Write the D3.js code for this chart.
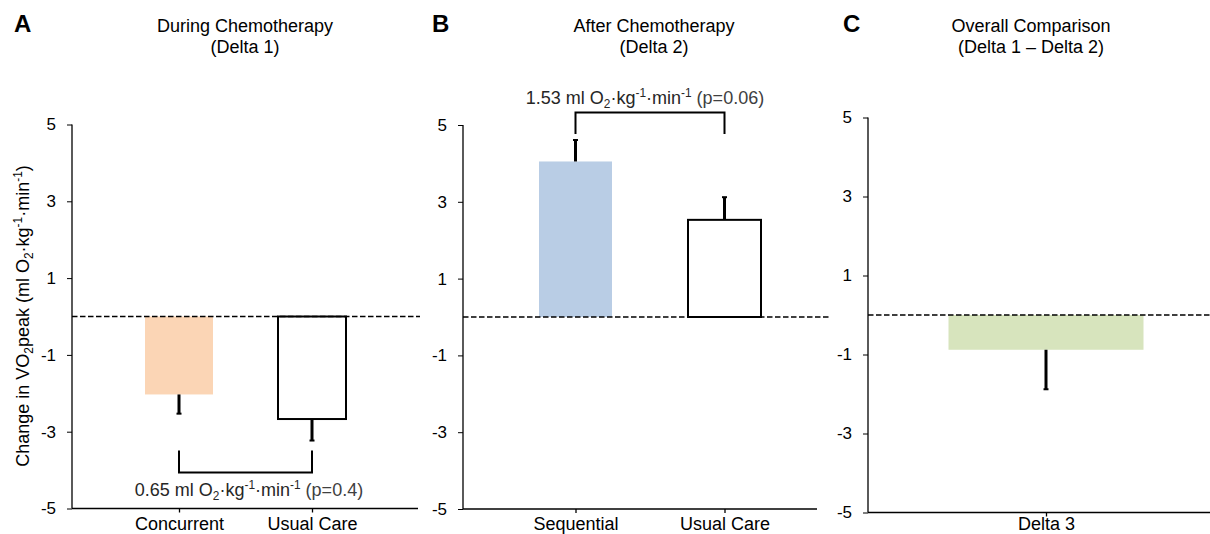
<!DOCTYPE html>
<html>
<head>
<meta charset="utf-8">
<script src="https://cdn.jsdelivr.net/npm/d3@7"></script>
<style>
  html, body { margin: 0; padding: 0; background: #fff; }
  svg { display: block; font-family: "Liberation Sans", Arial, sans-serif; }
</style>
</head>
<body>
<svg id="chart" width="1210" height="534"></svg>
<script>
// ---- data ----
const yTicks = [-5, -3, -1, 1, 3, 5];

const catsA = ["Concurrent", "Usual Care"];
const meansA = [-2.03, -2.67];
const errEndA = [-2.53, -3.23];

const catsB = ["Sequential", "Usual Care"];
const meansB = [4.05, 2.53];
const errEndB = [4.61, 3.12];

const catsC = ["Delta 3"];
const meansC = [-0.88];
const errEndC = [-1.88];

const fillsA = ["#FBD5B5", "#ffffff"];
const fillsB = ["#B9CDE5", "#ffffff"];
const fillsC = ["#D7E4BD"];

const titlesA = ["During Chemotherapy", "(Delta 1)"];
const titlesB = ["After Chemotherapy", "(Delta 2)"];
const titlesC = ["Overall Comparison", "(Delta 1 \u2013 Delta 2)"];

// ---- layout ----
const panels = [
  { letter: "A", cats: catsA, means: meansA, errs: errEndA, fills: fillsA, titles: titlesA,
    axisX: 72, axisEnd: 418, dashEnd: 420, yRange: [508.5, 124.5], catRange: [112.5, 378.5], barW: 68,
    letterX: 14, titleX: 245, catPad: 4.6,
    bracket: { y0: 450.5, y1: 472.5, textY: 496, textX: 249, label: "0.65", p: "(p=0.4)" } },
  { letter: "B", cats: catsB, means: meansB, errs: errEndB, fills: fillsB, titles: titlesB,
    axisX: 463, axisEnd: 817, dashEnd: 831, yRange: [509, 125], catRange: [501, 799], barW: 73,
    letterX: 432, titleX: 654, catPad: 4.2,
    bracket: { y0: 134, y1: 112.5, textY: 104, textX: 645, label: "1.53", p: "(p=0.06)" } },
  { letter: "C", cats: catsC, means: meansC, errs: errEndC, fills: fillsC, titles: titlesC,
    axisX: 868, axisEnd: 1210, dashEnd: 1210, yRange: [512.5, 117.5], catRange: [945, 1147], barW: 195,
    letterX: 843, titleX: 1031, catPad: 0.6, bracket: null }
];

const svg = d3.select("#chart");

function addUnits(textSel, prefix, suffix) {
  textSel.append("tspan").text(prefix + " ml O");
  textSel.append("tspan").attr("font-size", "0.66em").attr("dy", 4).text("2");
  textSel.append("tspan").attr("dy", -4).text("\u00b7kg");
  textSel.append("tspan").attr("font-size", "0.66em").attr("dy", -7).text("-1");
  textSel.append("tspan").attr("dy", 7).text("\u00b7min");
  textSel.append("tspan").attr("font-size", "0.66em").attr("dy", -7).text("-1");
  textSel.append("tspan").attr("dy", 7).attr("fill", "#404040").text(suffix);
}

panels.forEach(p => {
  const g = svg.append("g");
  const y = d3.scaleLinear().domain([-5, 5]).range(p.yRange);
  const x = d3.scalePoint().domain(p.cats).range(p.catRange).padding(0.5);
  const y0 = y(0);
  const yBottom = y(-5);

  // panel letter
  g.append("text").attr("x", p.letterX).attr("y", 32)
    .attr("font-size", 24).attr("font-weight", "bold").attr("fill", "#000").text(p.letter);
  // titles
  p.titles.forEach((t, i) => {
    g.append("text").attr("x", p.titleX).attr("y", 32 + i * 21)
      .attr("text-anchor", "middle").attr("font-size", 18).attr("fill", "#000").text(t);
  });

  // bars
  p.cats.forEach((c, i) => {
    const v = p.means[i];
    const cx = x(c);
    const top = Math.min(y(v), y0), h = Math.abs(y(v) - y0);
    const white = p.fills[i] === "#ffffff";
    g.append("rect")
      .attr("x", cx - p.barW / 2).attr("y", top)
      .attr("width", p.barW).attr("height", h)
      .attr("fill", p.fills[i])
      .attr("stroke", white ? "#000" : "none")
      .attr("stroke-width", white ? 2 : 0);
    // error bar
    g.append("line").attr("x1", cx).attr("x2", cx)
      .attr("y1", y(v)).attr("y2", y(p.errs[i]))
      .attr("stroke", "#000").attr("stroke-width", 3);
    g.append("line").attr("x1", cx - 2.5).attr("x2", cx + 2.5)
      .attr("y1", y(p.errs[i])).attr("y2", y(p.errs[i]))
      .attr("stroke", "#000").attr("stroke-width", 2);
  });

  // zero dashed line
  g.append("line").attr("x1", p.axisX).attr("x2", p.dashEnd)
    .attr("y1", y0).attr("y2", y0)
    .attr("stroke", "#000").attr("stroke-width", 1.6).attr("stroke-dasharray", "5.5,2.5");

  // y axis
  const yAxis = g.append("g").attr("transform", `translate(${p.axisX},0)`)
    .call(d3.axisLeft(y).tickValues(yTicks).tickSize(5).tickPadding(11).tickFormat(d => String(d)));
  yAxis.select(".domain").attr("stroke", "#000").attr("stroke-width", 1.3).attr("d", `M0,${y(5)}V${yBottom}`);
  yAxis.selectAll(".tick line").attr("stroke", "#000");
  yAxis.selectAll(".tick text").attr("font-size", 17).attr("fill", "#000")
    .attr("font-family", "Liberation Sans, Arial, sans-serif");

  // x axis
  const xAxis = g.append("g").attr("transform", `translate(0,${yBottom})`)
    .call(d3.axisBottom(x).tickSize(4).tickPadding(p.catPad));
  xAxis.select(".domain").attr("stroke", "#000").attr("stroke-width", 1.3)
    .attr("d", `M${p.axisX},0H${p.axisEnd}`);
  xAxis.selectAll(".tick line").attr("stroke", "#000").attr("stroke-width", 1.3);
  xAxis.selectAll(".tick text").attr("font-size", 18).attr("fill", "#000")
    .attr("font-family", "Liberation Sans, Arial, sans-serif");

  // bracket + annotation
  if (p.bracket) {
    const b = p.bracket;
    const xs = p.cats.map(c => x(c));
    g.append("path")
      .attr("d", `M${xs[0]},${b.y0}V${b.y1}H${xs[1]}V${b.y0}`)
      .attr("fill", "none").attr("stroke", "#000").attr("stroke-width", 2);
    const t = g.append("text").attr("x", b.textX).attr("y", b.textY)
      .attr("text-anchor", "middle").attr("font-size", 18).attr("fill", "#262626");
    addUnits(t, b.label, " " + b.p);
  }
});

// y-axis title
const yl = svg.append("text")
  .attr("transform", "translate(29,316) rotate(-90)")
  .attr("text-anchor", "middle").attr("font-size", 18).attr("fill", "#000");
yl.append("tspan").text("Change in VO");
yl.append("tspan").attr("font-size", "0.66em").attr("dy", 4).text("2");
yl.append("tspan").attr("dy", -4).text("peak (ml O");
yl.append("tspan").attr("font-size", "0.66em").attr("dy", 4).text("2");
yl.append("tspan").attr("dy", -4).text("\u00b7kg");
yl.append("tspan").attr("font-size", "0.66em").attr("dy", -7).text("-1");
yl.append("tspan").attr("dy", 7).text("\u00b7min");
yl.append("tspan").attr("font-size", "0.66em").attr("dy", -7).text("-1");
yl.append("tspan").attr("dy", 7).text(")");
</script>
</body>
</html>
